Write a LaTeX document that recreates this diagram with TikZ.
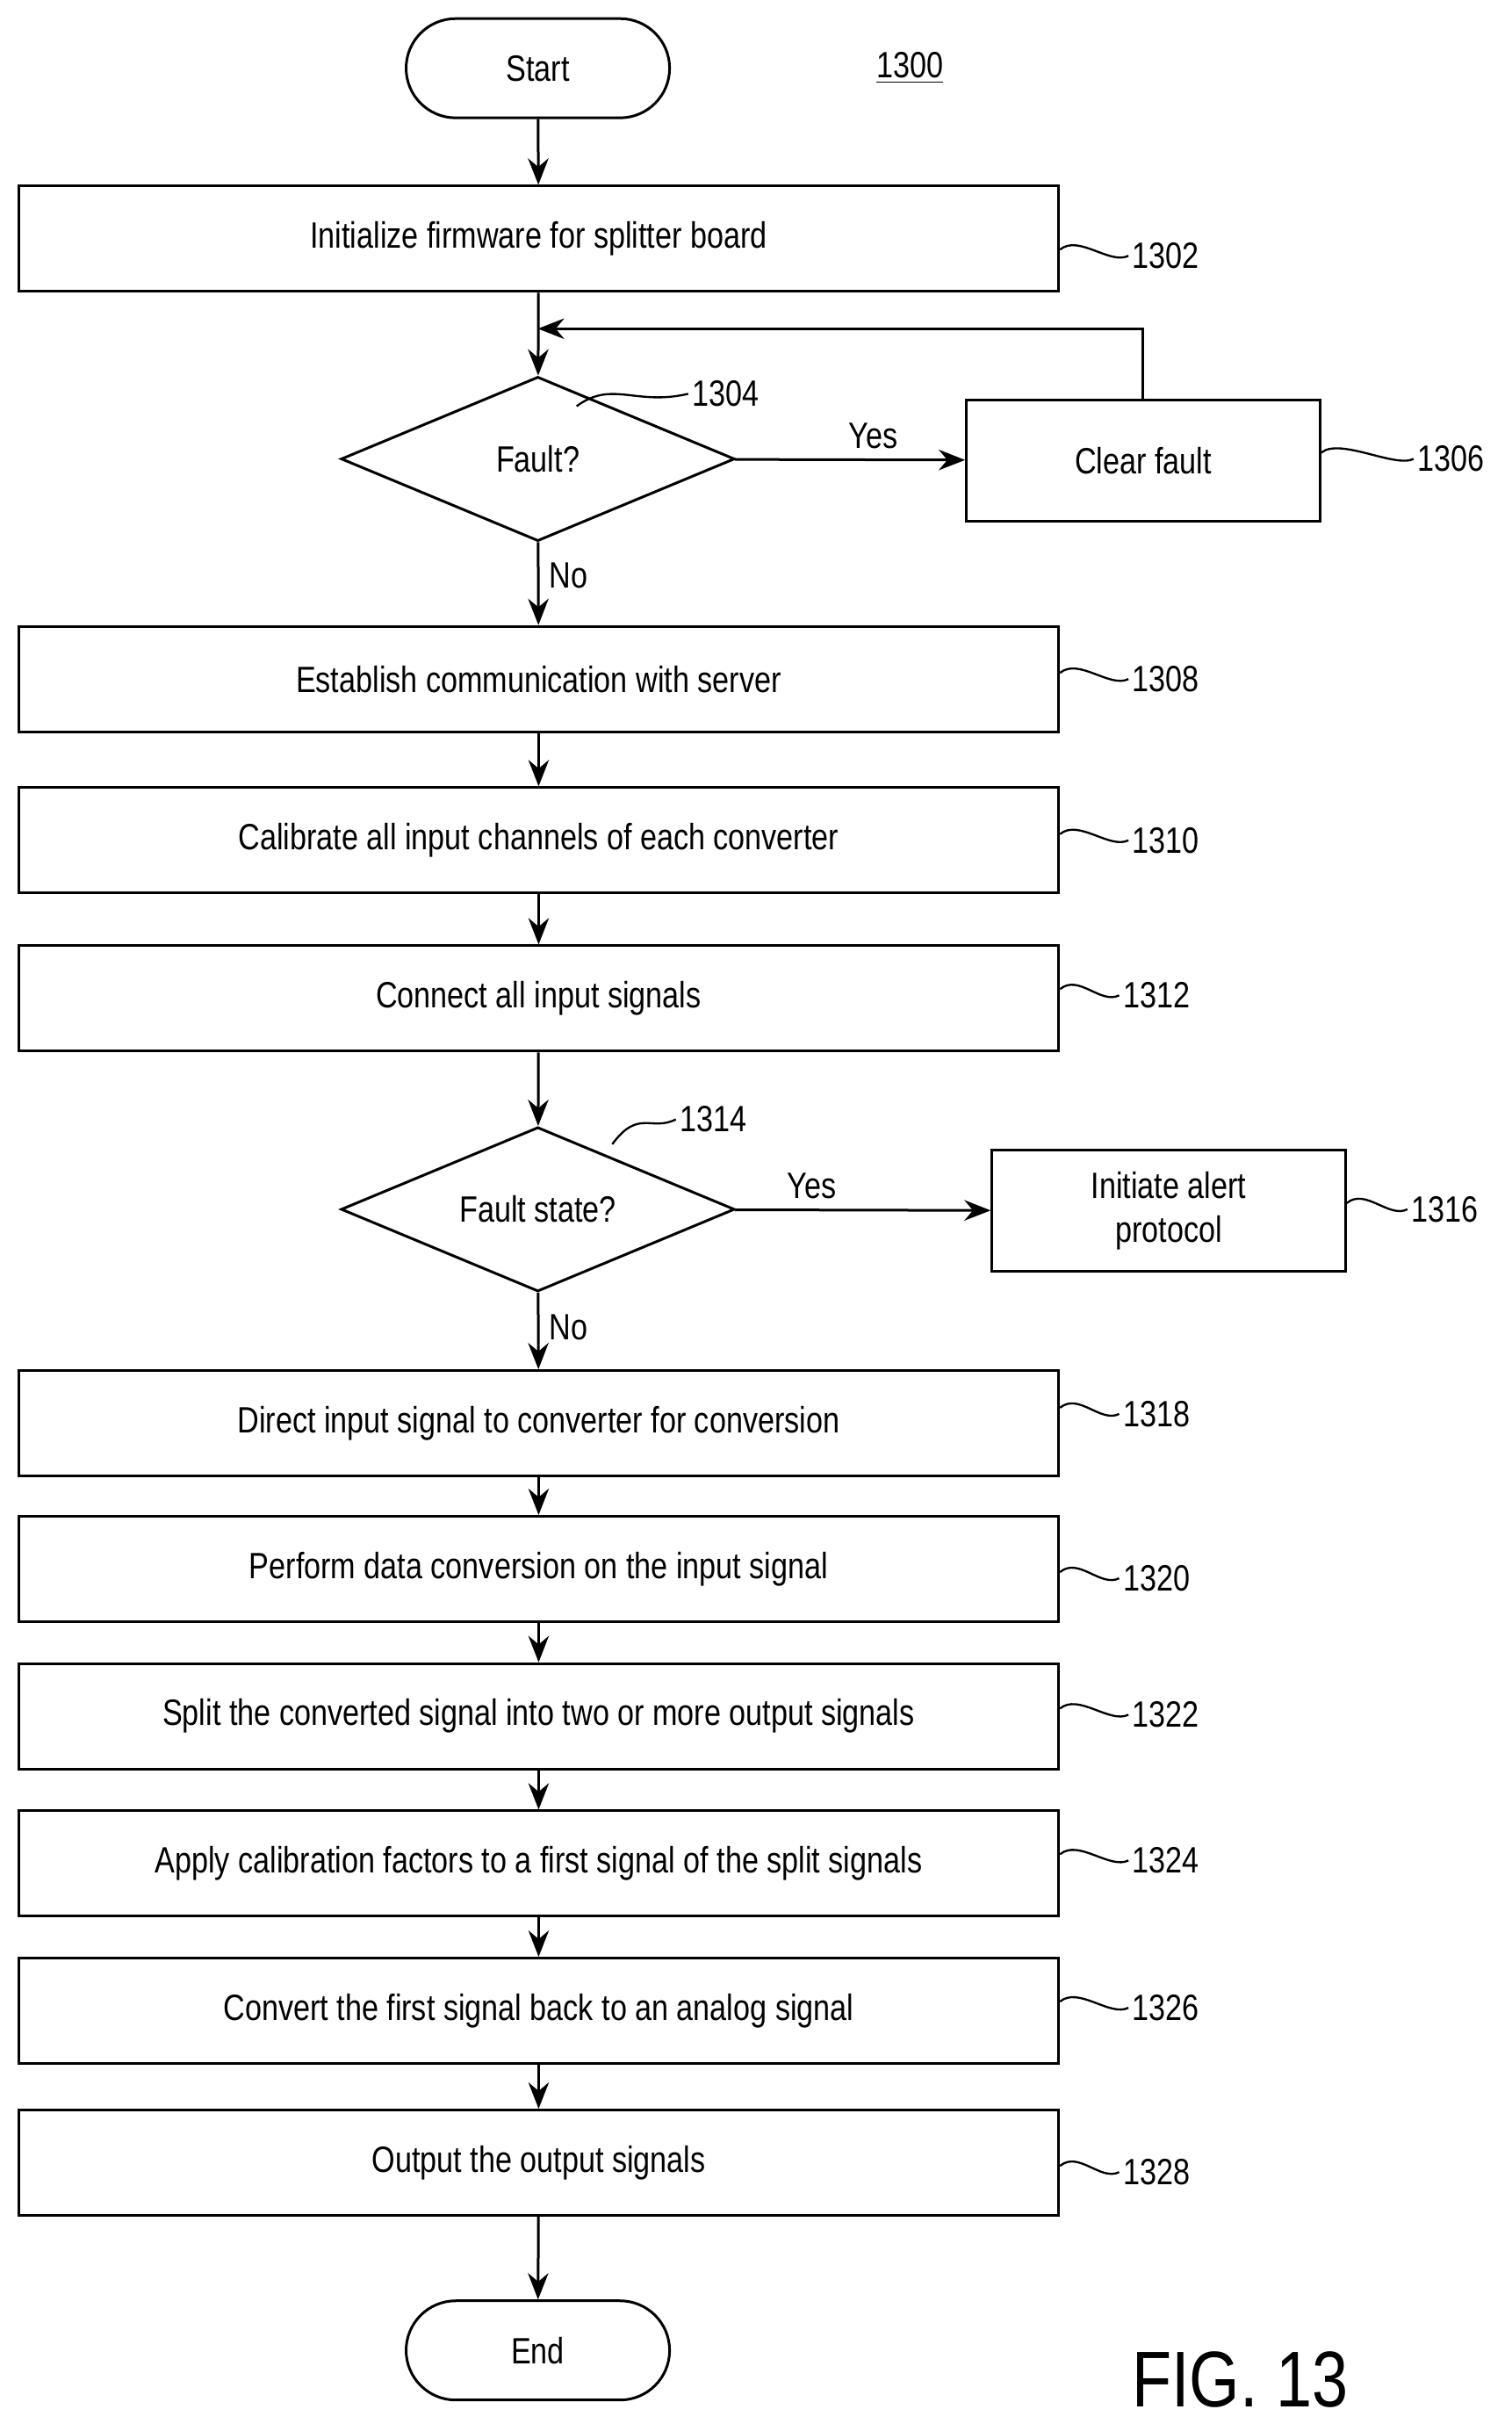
\documentclass[tikz,border=0pt]{standalone}
\usepackage{fontspec}
\setmainfont{Liberation Sans}[FakeStretch=0.82]
\usetikzlibrary{shapes.geometric,arrows.meta}
\begin{document}
\begin{tikzpicture}[x=0.5295pt,y=-0.5295pt,
  font=\fontsize{12.5}{15}\selectfont, line width=0.9pt,
  box/.style={draw,minimum width=671*0.5295pt,minimum height=68*0.5295pt,inner sep=0pt},
  sbox/.style={draw,minimum width=228*0.5295pt,minimum height=78*0.5295pt,align=center,inner sep=0pt},
  term/.style={draw,rounded corners=32*0.5295pt,minimum width=170*0.5295pt,minimum height=64*0.5295pt},
  dia/.style={draw,diamond,aspect=2.4,minimum width=254*0.5295pt,minimum height=106*0.5295pt,inner sep=0pt},
  lab/.style={anchor=west,inner sep=1pt},
  arr/.style={-{Stealth[length=9pt,width=7pt]}},
  sq/.style={line width=0.7pt}]
\useasboundingbox (0,0) rectangle (975,1568);
\node[term] (start) at (347,44) {Start};
\node (n1300) at (587,44) {\underline{1300}};
\node[box] (b1302) at (347.5,154) {Initialize firmware for splitter board};
\node[dia] (d1304) at (347,296) {Fault?};
\node[sbox] (b1306) at (737.5,297) {Clear fault};
\node[box] (b1308) at (347.5,438) {Establish communication with server};
\node[box] (b1310) at (347.5,542) {Calibrate all input channels of each converter};
\node[box] (b1312) at (347.5,644) {Connect all input signals};
\node[dia] (d1314) at (347,780) {Fault state?};
\node[sbox] (b1316) at (754,781) {Initiate alert\\protocol};
\node[box] (b1318) at (347.5,918) {Direct input signal to converter for conversion};
\node[box] (b1320) at (347.5,1012) {Perform data conversion on the input signal};
\node[box] (b1322) at (347.5,1107) {Split the converted signal into two or more output signals};
\node[box] (b1324) at (347.5,1202) {Apply calibration factors to a first signal of the split signals};
\node[box] (b1326) at (347.5,1297) {Convert the first signal back to an analog signal};
\node[box] (b1328) at (347.5,1395) {Output the output signals};
\node[term] (end) at (347,1516) {End};
\node[font=\fontsize{27}{30}\selectfont] (fig) at (800,1535) {FIG. 13};
% labels
\node[lab] (l1302) at (728,165) {1302};
\node[lab] (l1304) at (444,254) {1304};
\node[lab] (l1306) at (912,296) {1306};
\node[lab] (l1308) at (728,438) {1308};
\node[lab] (l1310) at (728,542) {1310};
\node[lab] (l1312) at (722,642) {1312};
\node[lab] (l1314) at (436,722) {1314};
\node[lab] (l1316) at (908,780) {1316};
\node[lab] (l1318) at (722,912) {1318};
\node[lab] (l1320) at (722,1018) {1320};
\node[lab] (l1322) at (728,1106) {1322};
\node[lab] (l1324) at (728,1200) {1324};
\node[lab] (l1326) at (728,1295) {1326};
\node[lab] (l1328) at (722,1401) {1328};
% squiggles
\foreach \b/\l in {b1302/l1302,b1308/l1308,b1310/l1310,b1312/l1312,b1318/l1318,b1320/l1320,b1322/l1322,b1324/l1324,b1326/l1326,b1328/l1328,b1306/l1306,b1316/l1316}
  \draw[sq] (\b.east |- \l.west) ++(0,-4) .. controls +(12,-10) and +(-12,6) .. (\l.west);
\draw[sq] (372,262) .. controls (395,245) and (410,262) .. (l1304.west);
\draw[sq] (395,738) .. controls (412,715) and (420,730) .. (l1314.west);
% connectors
\draw[arr] (start) -- (b1302);
\draw[arr] (b1302) -- (d1304);
\draw[arr] (d1304) -- node[above,pos=0.6]{Yes} (b1306);
\draw[arr] (b1306.north) |- (347,212);
\draw[arr] (d1304) -- node[right,pos=0.4]{No} (b1308);
\draw[arr] (b1308) -- (b1310);
\draw[arr] (b1310) -- (b1312);
\draw[arr] (b1312) -- (d1314);
\draw[arr] (d1314) -- node[above,pos=0.3]{Yes} (b1316);
\draw[arr] (d1314) -- node[right,pos=0.45]{No} (b1318);
\draw[arr] (b1318) -- (b1320);
\draw[arr] (b1320) -- (b1322);
\draw[arr] (b1322) -- (b1324);
\draw[arr] (b1324) -- (b1326);
\draw[arr] (b1326) -- (b1328);
\draw[arr] (b1328) -- (end);
\end{tikzpicture}
\end{document}
